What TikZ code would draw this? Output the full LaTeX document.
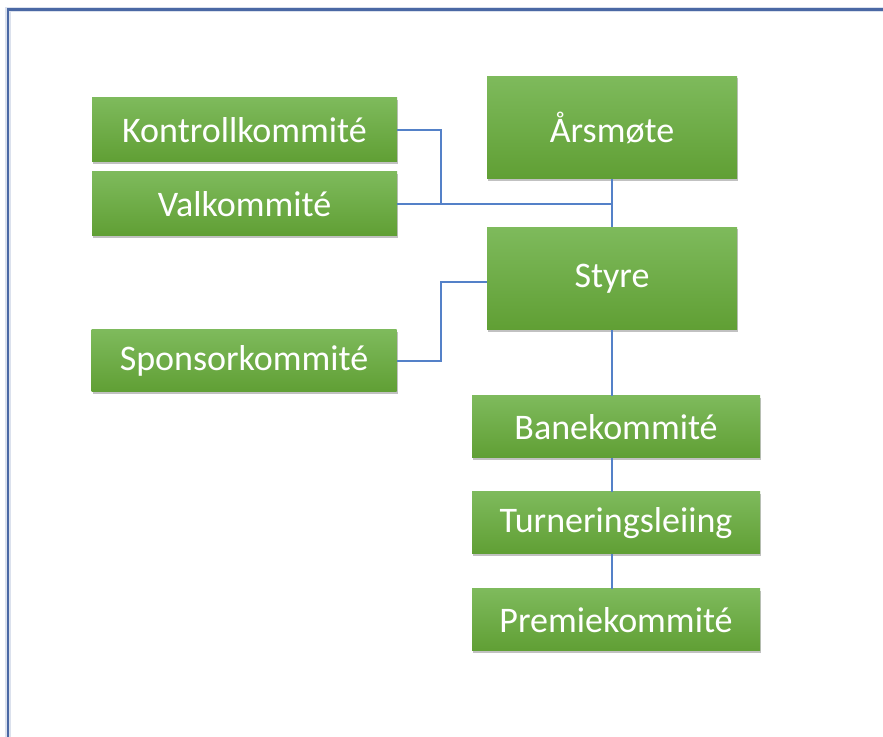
\documentclass[tikz,border=0pt]{standalone}
\usepackage{fontspec}
\setmainfont{Carlito}
\usetikzlibrary{shadows}

\definecolor{boxtop}{RGB}{126,186,92}
\definecolor{boxbot}{RGB}{96,159,52}
\definecolor{linkcol}{RGB}{84,129,200}
\definecolor{framecol}{RGB}{74,104,164}

\begin{document}
\begin{tikzpicture}[x=0.75pt,y=0.75pt,yscale=-1,xscale=1,
  orgbox/.style={rectangle, inner sep=0pt, text=white, font=\fontsize{27}{32}\selectfont,
    top color=boxtop, bottom color=boxbot, draw=none,
    drop shadow={shadow xshift=1pt, shadow yshift=-1.5pt, opacity=0.35, fill=black!70}},
  wideb/.style={orgbox, minimum width=228.75pt, minimum height=48pt},
  bigb/.style={orgbox, minimum width=187.5pt, minimum height=77pt},
  lowb/.style={orgbox, minimum width=216pt, minimum height=46.5pt},
  link/.style={draw=linkcol, line width=0.8pt}]
\useasboundingbox (0,0) rectangle (883,737);

%Shape: Frame
\draw [framecol!20, line width=4pt] (8,760) -- (8,9.5) -- (900,9.5);
\draw [framecol, line width=1.8pt] (8,760) -- (8,9.5) -- (900,9.5);

% Text Node
\node [wideb] (kontroll) at (244.5,130) {Kontrollkommité};
% Text Node
\node [wideb] (val) at (244.5,204) {Valkommité};
% Text Node
\node [bigb] (arsmote) at (612,127.5) {Årsmøte};
% Text Node
\node [bigb] (styre) at (612,278.5) {Styre};
% Text Node
\node [wideb, minimum height=46.5pt] (sponsor) at (244,361) {Sponsorkommité};
% Text Node
\node [lowb] (bane) at (616,427) {Banekommité};
% Text Node
\node [lowb] (turnering) at (616,523) {Turneringsleiing};
% Text Node
\node [lowb] (premie) at (616,620) {Premiekommité};

\coordinate (kbend) at (441,130);
\coordinate (sbend) at (441,282);

%Connectors
\draw [link] (arsmote.south) -- (styre.north);
\draw [link] (val.east) -- (val.east -| arsmote.south);
\draw [link] (kontroll.east) -- (kbend) -- (kbend |- val.east);
\draw [link] (styre.west |- sbend) -- (sbend) |- (sponsor.east);
\draw [link] (styre.south) -- (styre.south |- bane.north);
\draw [link] (bane.south -| styre.south) -- (turnering.north -| styre.south);
\draw [link] (turnering.south -| styre.south) -- (premie.north -| styre.south);

\end{tikzpicture}
\end{document}
